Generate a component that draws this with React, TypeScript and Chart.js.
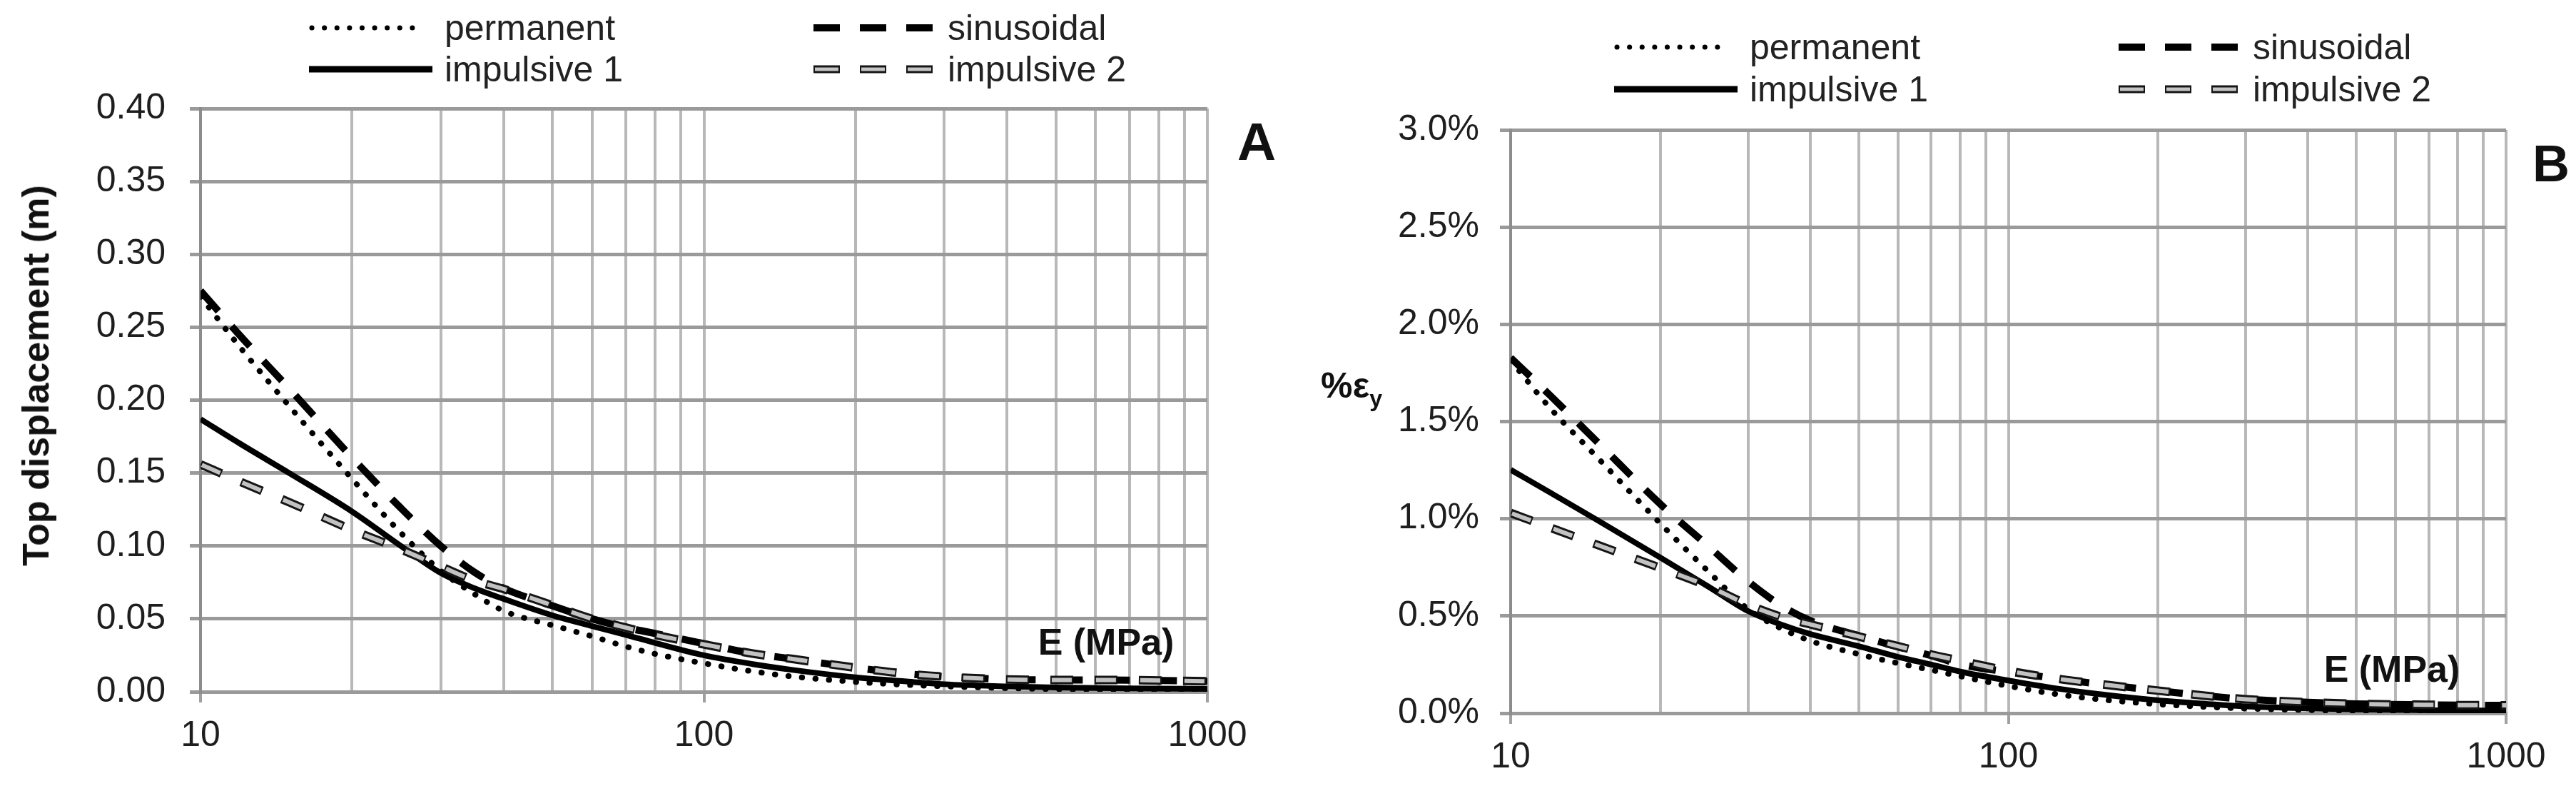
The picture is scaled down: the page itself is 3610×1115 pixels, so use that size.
import { useEffect, useRef } from "react";
import { Chart, registerables } from "chart.js";

Chart.register(...registerables);
Chart.defaults.font.family = "'Liberation Sans', Arial, sans-serif";

// E (MPa) sample points shared by every curve
const modulus = [10, 12, 15, 20, 25, 30, 35, 40, 50, 60, 70, 80, 100, 125, 150, 200, 250, 300, 400, 500, 700, 1000];
// vertical grid lines and the labelled ones
const gridValues = [10, 20, 30, 40, 50, 60, 70, 80, 90, 100, 200, 300, 400, 500, 600, 700, 800, 900, 1000];
const labelledValues = [10, 100, 1000];
const seriesLabels = ["permanent", "sinusoidal", "impulsive 1", "impulsive 2"];

// panel A - top displacement (m)
const dispPermanent = [0.271, 0.236, 0.196, 0.146, 0.109, 0.083, 0.067, 0.0555, 0.0456, 0.038, 0.031, 0.026, 0.0195, 0.014, 0.0105, 0.0068, 0.0048, 0.0037, 0.0025, 0.0018, 0.0013, 0.001];
const dispSinusoidal = [0.275, 0.244, 0.208, 0.1606, 0.126, 0.1, 0.082, 0.071, 0.059, 0.05, 0.044, 0.04, 0.033, 0.0262, 0.0225, 0.0165, 0.0125, 0.0104, 0.0085, 0.0081, 0.008, 0.0072];
const dispImpulsive1 = [0.187, 0.17, 0.15, 0.1236, 0.1, 0.0815, 0.071, 0.0637, 0.0524, 0.045, 0.039, 0.0335, 0.025, 0.019, 0.015, 0.0099, 0.0072, 0.0052, 0.0037, 0.0029, 0.0023, 0.002];
const dispImpulsive2 = [0.156, 0.144, 0.13, 0.111, 0.0977, 0.086, 0.0763, 0.0705, 0.0593, 0.05, 0.044, 0.039, 0.0325, 0.0262, 0.0225, 0.0165, 0.0125, 0.0104, 0.0085, 0.0081, 0.008, 0.0072];

// panel B - strain, % of yield strain
const strainPermanent = [1.814, 1.57, 1.31, 0.975, 0.727, 0.535, 0.435, 0.372, 0.304, 0.257, 0.222, 0.19, 0.14, 0.098, 0.073, 0.046, 0.032, 0.024, 0.016, 0.012, 0.009, 0.007];
const strainSinusoidal = [1.828, 1.635, 1.39, 1.075, 0.857, 0.678, 0.553, 0.476, 0.399, 0.341, 0.296, 0.252, 0.212, 0.178, 0.152, 0.116, 0.089, 0.072, 0.056, 0.048, 0.043, 0.04];
const strainImpulsive1 = [1.252, 1.135, 0.99, 0.8, 0.65, 0.525, 0.455, 0.407, 0.345, 0.29, 0.25, 0.214, 0.168, 0.127, 0.1, 0.066, 0.048, 0.035, 0.025, 0.019, 0.015, 0.013];
const strainImpulsive2 = [1.03, 0.955, 0.864, 0.747, 0.652, 0.558, 0.495, 0.457, 0.395, 0.345, 0.302, 0.27, 0.218, 0.178, 0.152, 0.116, 0.089, 0.072, 0.056, 0.048, 0.043, 0.04];

const tickFont = { size: 50 };
const tickColor = "#1e1e1e";
const FONT = "'Liberation Sans', Arial, sans-serif";

const points = (values: number[]) => modulus.map((x, i) => ({ x, y: values[i] }));

function buildDatasets(perm: number[], sin: number[], imp1: number[], imp2: number[]) {
  return [
    // gray core of impulsive 2, drawn over its dark outline
    { label: "impulsive 2", data: points(imp2), borderColor: "#c2c2c2", borderWidth: 6, borderDash: [28, 34], borderDashOffset: -2, order: 0 },
    { label: "impulsive 2 outline", data: points(imp2), borderColor: "#151515", borderWidth: 12, borderDash: [32, 30], order: 1 },
    { label: "sinusoidal", data: points(sin), borderColor: "#000", borderWidth: 10, borderDash: [38, 28], order: 2 },
    { label: "impulsive 1", data: points(imp1), borderColor: "#000", borderWidth: 8, order: 3 },
    { label: "permanent", data: points(perm), borderColor: "#000", borderWidth: 8, borderDash: [0.5, 18.5], borderCapStyle: "round", order: 4 },
  ];
}

interface PanelProps {
  left: number;
  width: number;
  top: number;
  right: number;
  axisWidth: number;
  axisHeight: number;
  labelPad: number;
  yMax: number;
  yStep: number;
  format: (v: number) => string;
  series: number[][];
}

function Panel(p: PanelProps) {
  const canvasRef = useRef<HTMLCanvasElement>(null);

  useEffect(() => {
    if (!canvasRef.current) return;
    const [perm, sin, imp1, imp2] = p.series;
    const chart = new Chart(canvasRef.current, {
      type: "line",
      data: { datasets: buildDatasets(perm, sin, imp1, imp2) as any },
      options: {
        responsive: true,
        maintainAspectRatio: false,
        animation: false,
        events: [],
        layout: { padding: { top: p.top, right: p.right, left: 0, bottom: 0 } },
        elements: { point: { radius: 0 }, line: { cubicInterpolationMode: "monotone", fill: false } },
        plugins: { legend: { display: false }, tooltip: { enabled: false } },
        scales: {
          x: {
            type: "logarithmic",
            min: 10,
            max: 1000,
            afterBuildTicks: (scale: any) => {
              scale.ticks = gridValues.map((value) => ({ value }));
            },
            afterFit: (scale: any) => {
              scale.height = p.axisHeight;
            },
            ticks: {
              autoSkip: false,
              maxRotation: 0,
              padding: 17,
              font: tickFont,
              color: tickColor,
              callback: (v: any) => (labelledValues.includes(Number(v)) ? String(v) : ""),
            },
            grid: {
              color: "#b8b8b8",
              lineWidth: 4,
              tickLength: 15,
              tickColor: (ctx: any) => (labelledValues.includes(ctx.tick?.value) ? "#a0a0a0" : "rgba(0,0,0,0)"),
            },
            border: { color: "#9a9a9a", width: 5 },
          },
          y: {
            min: 0,
            max: p.yMax,
            afterFit: (scale: any) => {
              scale.width = p.axisWidth;
            },
            ticks: {
              stepSize: p.yStep,
              padding: p.labelPad,
              font: tickFont,
              color: tickColor,
              callback: (v: any) => p.format(Number(v)),
            },
            grid: { color: "#9a9a9a", lineWidth: 5, tickLength: 15, tickColor: "#9a9a9a" },
            border: { color: "#8c8c8c", width: 4 },
          },
        },
      },
    });
    return () => chart.destroy();
  }, []);

  return (
    <div style={{ position: "absolute", left: p.left, top: 0, width: p.width, height: 1115 }}>
      <canvas ref={canvasRef}></canvas>
    </div>
  );
}

function Legend({ x, rows }: { x: number; rows: number[] }) {
  const text = (label: string, left: number, cy: number) => (
    <div
      key={label}
      style={{
        position: "absolute",
        left,
        top: cy - 25,
        height: 50,
        lineHeight: "50px",
        fontFamily: FONT,
        fontSize: 50,
        color: "#222",
        whiteSpace: "nowrap",
      }}
    >
      {label}
    </div>
  );
  const c2 = 707;
  return (
    <>
      <svg style={{ position: "absolute", left: x, top: 0 }} width={900} height={170}>
        <line x1={4} x2={158} y1={rows[0]} y2={rows[0]} stroke="#000" strokeWidth={7} strokeDasharray="0.1 17.5" strokeLinecap="round" />
        <line x1={0} x2={173} y1={rows[1]} y2={rows[1]} stroke="#000" strokeWidth={9} />
        <line x1={c2} x2={c2 + 167} y1={rows[0]} y2={rows[0]} stroke="#000" strokeWidth={10} strokeDasharray="37 28" />
        <line x1={c2} x2={c2 + 167} y1={rows[1]} y2={rows[1]} stroke="#151515" strokeWidth={11} strokeDasharray="37 28" />
        <line x1={c2} x2={c2 + 167} y1={rows[1]} y2={rows[1]} stroke="#c4c4c4" strokeWidth={5} strokeDasharray="33 32" strokeDashoffset={-2} />
      </svg>
      {text(seriesLabels[0], x + 190, rows[0])}
      {text(seriesLabels[2], x + 190, rows[1])}
      {text(seriesLabels[1], x + 895, rows[0])}
      {text(seriesLabels[3], x + 895, rows[1])}
    </>
  );
}

function Label({ children, cx, cy, size, rotate }: { children: any; cx: number; cy: number; size: number; rotate?: boolean }) {
  return (
    <div
      style={{
        position: "absolute",
        left: cx,
        top: cy,
        transform: `translate(-50%, -50%)${rotate ? " rotate(-90deg)" : ""}`,
        fontFamily: FONT,
        fontWeight: "bold",
        fontSize: size,
        lineHeight: 1,
        color: "#111",
        whiteSpace: "nowrap",
      }}
    >
      {children}
    </div>
  );
}

export default function App() {
  return (
    <div style={{ position: "absolute", left: 0, top: 0, width: 3610, height: 1115, background: "#fff", overflow: "hidden" }}>
      <Panel
        left={0}
        width={1800}
        top={152}
        right={108}
        axisWidth={281}
        axisHeight={146}
        labelPad={34}
        yMax={0.4}
        yStep={0.05}
        format={(v) => v.toFixed(2)}
        series={[dispPermanent, dispSinusoidal, dispImpulsive1, dispImpulsive2]}
      />
      <Panel
        left={1800}
        width={1810}
        top={182}
        right={98}
        axisWidth={317}
        axisHeight={116}
        labelPad={29}
        yMax={3}
        yStep={0.5}
        format={(v) => `${v.toFixed(1)}%`}
        series={[strainPermanent, strainSinusoidal, strainImpulsive1, strainImpulsive2]}
      />
      <Legend x={433} rows={[39, 97]} />
      <Legend x={2262} rows={[66, 125]} />
      <Label cx={50} cy={526} size={52} rotate>
        Top displacement (m)
      </Label>
      <Label cx={1761} cy={198} size={75}>A</Label>
      <Label cx={3575} cy={229} size={72}>B</Label>
      <Label cx={1550} cy={899} size={52}>E (MPa)</Label>
      <Label cx={3352} cy={937} size={52}>E (MPa)</Label>
      <div
        style={{
          position: "absolute",
          left: 1851,
          top: 515,
          fontFamily: FONT,
          fontWeight: "bold",
          fontSize: 50,
          lineHeight: 1,
          color: "#111",
          whiteSpace: "nowrap",
        }}
      >
        %ε<sub style={{ fontSize: 32, verticalAlign: -12, lineHeight: 1 }}>y</sub>
      </div>
    </div>
  );
}
